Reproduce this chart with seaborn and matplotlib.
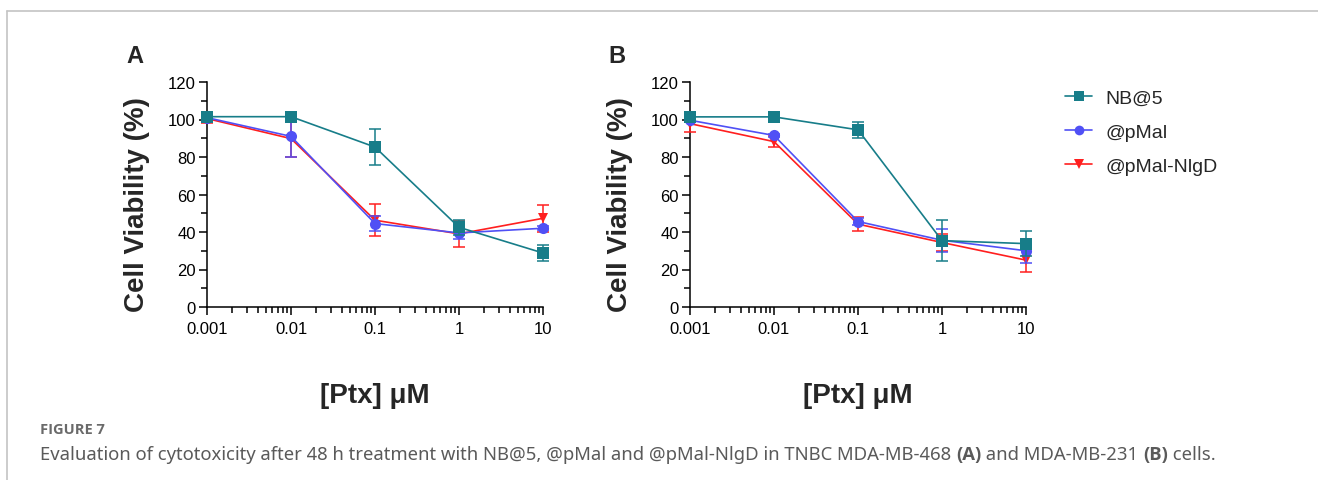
import numpy as np
import pandas as pd
import matplotlib
matplotlib.use("Agg")
import matplotlib.pyplot as plt
import matplotlib.ticker as mticker
from matplotlib.lines import Line2D
import seaborn as sns

# ===============================
# DATA
# ===============================
conc = [0.001, 0.01, 0.1, 1, 10]
conc_labels = ["0.001", "0.01", "0.1", "1", "10"]
groups = ["NB@5", "@pMal", "@pMal-NlgD"]

# panel A: MDA-MB-468
a_nb5 = [101.5, 101.5, 85.3, 42.5, 28.8]
a_nb5_sd = [1.0, 1.0, 9.8, 4.0, 4.5]
a_pmal = [101.0, 91.0, 44.5, 39.5, 42.0]
a_pmal_sd = [1.0, 11.0, 4.0, 3.0, 1.0]
a_nlgd = [100.5, 89.8, 46.3, 39.0, 47.3]
a_nlgd_sd = [2.5, 10.0, 8.5, 7.0, 7.3]

# panel B: MDA-MB-231
b_nb5 = [101.4, 101.4, 94.5, 35.4, 33.8]
b_nb5_sd = [1.0, 1.0, 4.3, 11.0, 6.5]
b_pmal = [99.6, 91.5, 45.6, 35.6, 30.0]
b_pmal_sd = [1.0, 1.0, 2.0, 6.2, 6.5]
b_nlgd = [97.8, 88.2, 44.2, 34.4, 25.0]
b_nlgd_sd = [4.5, 3.0, 3.8, 4.6, 6.3]

COLORS = {"NB@5": "#177d89", "@pMal": "#5050f5", "@pMal-NlgD": "#ff1f1f"}
MARKERS = {"NB@5": "s", "@pMal": "o", "@pMal-NlgD": "v"}
MSIZE = {"NB@5": 8.5, "@pMal": 8.0, "@pMal-NlgD": 7.5}

W, H = 1318, 481

sns.set_style("ticks")
plt.rcParams["font.family"] = ["Liberation Sans", "DejaVu Sans"]

fig = plt.figure(figsize=(W / 100, H / 100), dpi=100)


def px_box(x0, y0, x1, y1):
    return [x0 / W, 1 - y1 / H, (x1 - x0) / W, (y1 - y0) / H]


ax_a = fig.add_axes(px_box(207, 83, 543, 308))
ax_b = fig.add_axes(px_box(690, 83, 1026, 308))

panels = [
    (ax_a, {"NB@5": (a_nb5, a_nb5_sd), "@pMal": (a_pmal, a_pmal_sd), "@pMal-NlgD": (a_nlgd, a_nlgd_sd)}),
    (ax_b, {"NB@5": (b_nb5, b_nb5_sd), "@pMal": (b_pmal, b_pmal_sd), "@pMal-NlgD": (b_nlgd, b_nlgd_sd)}),
]

for ax, series in panels:
    rows = []
    for g in groups:
        for c, v in zip(conc, series[g][0]):
            rows.append({"conc": c, "viability": v, "group": g})
    df = pd.DataFrame(rows)

    # draw red first, teal on top
    z = {"@pMal-NlgD": 3, "@pMal": 4, "NB@5": 5}
    for g in ["@pMal-NlgD", "@pMal", "NB@5"]:
        vals, sd = series[g]
        ax.errorbar(conc, vals, yerr=sd, fmt="none", ecolor=COLORS[g],
                    elinewidth=1.1, capsize=4.5, capthick=1.1, zorder=z[g])
        sns.lineplot(data=df[df["group"] == g], x="conc", y="viability", ax=ax,
                     color=COLORS[g], marker=MARKERS[g], markersize=MSIZE[g],
                     markeredgewidth=0, linewidth=1.2, zorder=z[g], legend=False)

    ax.set_xscale("log")
    ax.set_xlim(0.001, 10)
    ax.set_ylim(0, 120)
    ax.xaxis.set_major_locator(mticker.FixedLocator(conc))
    ax.xaxis.set_major_formatter(mticker.FixedFormatter(conc_labels))
    ax.xaxis.set_minor_locator(mticker.LogLocator(base=10, subs=np.arange(2, 10)))
    ax.xaxis.set_minor_formatter(mticker.NullFormatter())
    ax.yaxis.set_major_locator(mticker.MultipleLocator(20))
    ax.yaxis.set_minor_locator(mticker.MultipleLocator(10))

    for side in ["top", "right"]:
        ax.spines[side].set_visible(False)
    for side in ["left", "bottom"]:
        ax.spines[side].set_linewidth(1.1)
        ax.spines[side].set_color("black")
    ax.tick_params(which="major", length=6, width=1.1, labelsize=12, colors="black", pad=2)
    ax.tick_params(axis="x", which="major", pad=4)
    ax.tick_params(which="minor", length=4, width=1.1, colors="black")

    ax.set_xlabel("[Ptx] μM", fontsize=20, fontweight="bold")
    ax.xaxis.set_label_coords(0.5, -0.335)
    ax.set_ylabel("Cell Viability (%)", fontsize=20, fontweight="bold")
    ax.yaxis.set_label_coords(-0.17, 0.46)
    ax.set_facecolor("none")
    for art in ax.lines + ax.collections:
        art.set_clip_on(False)

fig.text(135 / W, 1 - 57 / H, "A", fontsize=17, fontweight="bold", ha="center", va="center")
fig.text(617 / W, 1 - 57 / H, "B", fontsize=17, fontweight="bold", ha="center", va="center")

# legend
handles = [Line2D([], [], color=COLORS[g], marker=MARKERS[g], markersize=MSIZE[g] - 1,
                  markeredgewidth=0, linewidth=1.2) for g in groups]
fig.legend(handles, groups, loc="upper left", bbox_to_anchor=(1065 / W, 1 - 90 / H),
           frameon=False, fontsize=14, handlelength=1.4, handletextpad=0.7,
           labelspacing=0.85, borderaxespad=0, borderpad=0)

# frame lines (top and left only)
fig.add_artist(Line2D([7 / W, 1], [1 - 12 / H, 1 - 12 / H], color="#c4c4c4", lw=1.2))
fig.add_artist(Line2D([7 / W, 7 / W], [1 - 12 / H, 0], color="#c4c4c4", lw=1.2))

# caption
cap_font = ["Noto Sans", "DejaVu Sans"]
bold_font = ["Open Sans", "DejaVu Sans"]
fig.text(40 / W, 1 - 430 / H, "FIGURE 7", fontsize=10.5, fontweight="bold",
         color="#6a6a6a", family=bold_font, va="center")

pieces = [
    ("Evaluation of cytotoxicity after 48 h treatment with NB@5, @pMal and @pMal-NlgD in TNBC MDA-MB-468 ", "normal"),
    ("(A)", "bold"),
    (" and MDA-MB-231 ", "normal"),
    ("(B)", "bold"),
    (" cells.", "normal"),
]
renderer = fig.canvas.get_renderer()
x = 40
for txt, wt in pieces:
    fam = bold_font if wt == "bold" else cap_font
    t = fig.text(x / W, 1 - 455 / H, txt, fontsize=13.3, fontweight=wt,
                 color="#5a5a5a", family=fam, va="center")
    bb = t.get_window_extent(renderer=renderer)
    x += bb.width

fig.savefig("out.png", dpi=100)
